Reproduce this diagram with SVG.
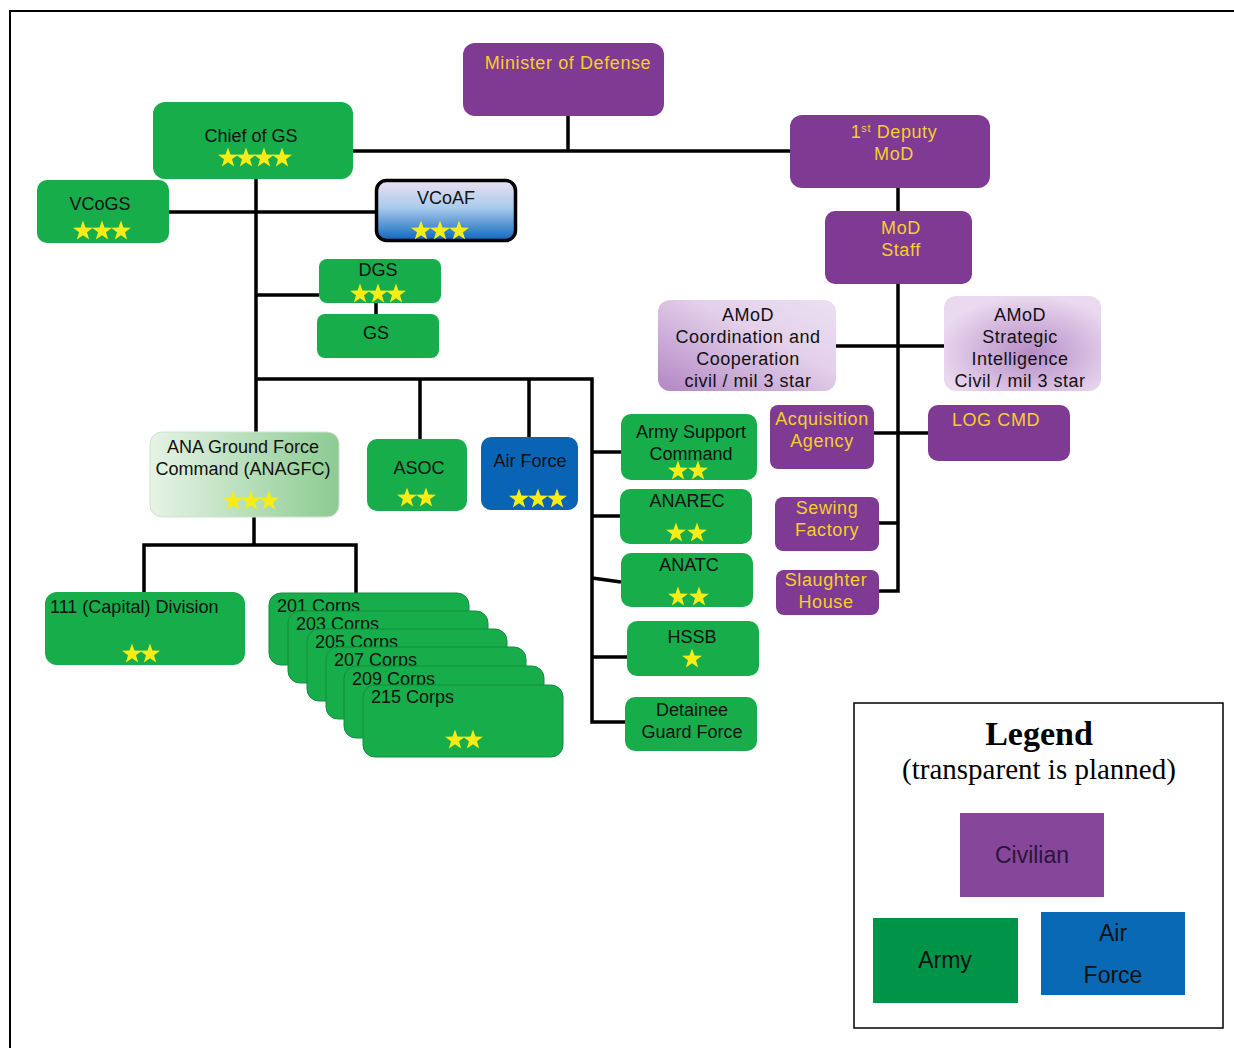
<svg xmlns="http://www.w3.org/2000/svg" width="1234" height="1048" viewBox="0 0 1234 1048">
<style>
.g{fill:#17ad4b}
.gs{fill:#17ad4b;stroke:#0f8f3c;stroke-width:1}
.p{fill:#7f3a94}
.t{font-family:"Liberation Sans",Arial,sans-serif;font-size:18px;fill:#111;text-anchor:middle}
.y{fill:#f5cf2a;letter-spacing:0.6px}
.a{letter-spacing:0.5px}
.l{text-anchor:start}
.c{fill:none;stroke:#000;stroke-width:3.5}
.lg{font-size:23px}
</style>
<defs>
<path id="star" d="M0,-10.5 L2.47,-3.4 L9.99,-3.24 L3.99,1.3 L6.17,8.49 L0,4.2 L-6.17,8.49 L-3.99,1.3 L-9.99,-3.24 L-2.47,-3.4Z" fill="#f8ec16"/>
<linearGradient id="vcoaf" x1="0" y1="0" x2="0" y2="1">
<stop offset="0" stop-color="#ece0f0"/>
<stop offset="0.45" stop-color="#a9cbec"/>
<stop offset="1" stop-color="#0d66bd"/>
</linearGradient>
<linearGradient id="gfc" x1="0" y1="0" x2="1" y2="0">
<stop offset="0" stop-color="#e6f3e6"/>
<stop offset="1" stop-color="#8ccb91"/>
</linearGradient>
<linearGradient id="amod1" x1="0" y1="1" x2="1" y2="0">
<stop offset="0" stop-color="#b286c4"/>
<stop offset="0.6" stop-color="#e3d0ea"/>
<stop offset="1" stop-color="#ece0f1"/>
</linearGradient>
<radialGradient id="amod2" cx="0.55" cy="0.6" r="0.6">
<stop offset="0" stop-color="#b68cc7"/>
<stop offset="1" stop-color="#ead9ef"/>
</radialGradient>
</defs>
<rect width="1234" height="1048" fill="#fff"/>
<path d="M10,1048 V11 H1234" fill="none" stroke="#000" stroke-width="2"/>

<g id="connectors" class="c">
<path d="M568,116 V151"/>
<path d="M353,151 H790"/>
<path d="M256,179 V432"/>
<path d="M169,212 H375"/>
<path d="M256,295 H319"/>
<path d="M376,303 V314"/>
<path d="M256,379 H592 V722 H625"/>
<path d="M420,379 V439"/>
<path d="M529,379 V437"/>
<path d="M592,452 H621"/>
<path d="M592,516 H620"/>
<path d="M592,578 L621,582"/>
<path d="M592,657 H627"/>
<path d="M254,517 V545"/>
<path d="M144,593 V545 H356 V594"/>
<path d="M898,188 V211"/>
<path d="M898,284 V591 H879"/>
<path d="M836,346 H944"/>
<path d="M874,433 H928"/>
<path d="M879,523 H898"/>
</g>

<g id="minister"><rect class="p" x="463" y="43" width="201" height="73" rx="12"/><text class="t y" x="568" y="69">Minister of Defense</text></g>
<g id="chief"><rect class="g" x="153" y="102" width="200" height="77" rx="12"/><text class="t" x="251" y="142">Chief of GS</text>
<use href="#star" x="228" y="158"/><use href="#star" x="246" y="158"/><use href="#star" x="264" y="158"/><use href="#star" x="282" y="158"/></g>
<g id="deputy"><rect class="p" x="790" y="115" width="200" height="73" rx="12"/><text class="t y" x="894" y="138">1<tspan style="font-size:11px" dy="-6">st</tspan><tspan dy="6"> Deputy</tspan></text><text class="t y" x="894" y="160">MoD</text></g>
<g id="vcogs"><rect class="g" x="37" y="180" width="132" height="63" rx="10"/><text class="t" x="100" y="210">VCoGS</text>
<use href="#star" x="83" y="231"/><use href="#star" x="102" y="231"/><use href="#star" x="121" y="231"/></g>
<g id="vcoaf"><rect x="376.5" y="180.5" width="139" height="60" rx="10" fill="url(#vcoaf)" stroke="#000" stroke-width="3.5"/><text class="t" x="446" y="204">VCoAF</text>
<use href="#star" x="421" y="231"/><use href="#star" x="440" y="231"/><use href="#star" x="459" y="231"/></g>
<g id="dgs"><rect class="g" x="319" y="259" width="122" height="44" rx="8"/><text class="t" x="378" y="276">DGS</text>
<use href="#star" x="360" y="294"/><use href="#star" x="378" y="294"/><use href="#star" x="396" y="294"/></g>
<g id="gs"><rect class="g" x="317" y="314" width="122" height="44" rx="8"/><text class="t" x="376" y="339">GS</text></g>
<g id="modstaff"><rect class="p" x="825" y="211" width="147" height="73" rx="10"/><text class="t y" x="901" y="234">MoD</text><text class="t y" x="901" y="256">Staff</text></g>
<g id="amod-coord"><rect x="658" y="300" width="178" height="91" rx="12" fill="url(#amod1)"/>
<text class="t a" x="748" y="321">AMoD</text><text class="t a" x="748" y="343">Coordination and</text><text class="t a" x="748" y="365">Cooperation</text><text class="t a" x="748" y="387">civil / mil 3 star</text></g>
<g id="amod-intel"><rect x="944" y="296" width="157" height="95" rx="12" fill="url(#amod2)"/>
<text class="t a" x="1020" y="321">AMoD</text><text class="t a" x="1020" y="343">Strategic</text><text class="t a" x="1020" y="365">Intelligence</text><text class="t a" x="1020" y="387">Civil / mil 3 star</text></g>
<g id="acquisition"><rect class="p" x="770" y="405" width="104" height="64" rx="8"/><text class="t y" x="822" y="425">Acquisition</text><text class="t y" x="822" y="447">Agency</text></g>
<g id="logcmd"><rect class="p" x="928" y="405" width="142" height="56" rx="10"/><text class="t y" x="996" y="426">LOG CMD</text></g>
<g id="sewing"><rect class="p" x="775" y="497" width="104" height="54" rx="8"/><text class="t y" x="827" y="514">Sewing</text><text class="t y" x="827" y="536">Factory</text></g>
<g id="slaughter"><rect class="p" x="776" y="570" width="103" height="45" rx="8"/><text class="t y" x="826" y="586">Slaughter</text><text class="t y" x="826" y="608">House</text></g>

<g id="anagfc"><rect x="150" y="432" width="189" height="85" rx="12" fill="url(#gfc)" stroke="#cfe2cf"/><text class="t" x="243" y="453">ANA Ground Force</text><text class="t" x="243" y="475">Command (ANAGFC)</text>
<use href="#star" x="233" y="501"/><use href="#star" x="251" y="501"/><use href="#star" x="269" y="501"/></g>
<g id="asoc"><rect class="g" x="367" y="439" width="100" height="72" rx="10"/><text class="t" x="419" y="474">ASOC</text>
<use href="#star" x="407" y="498"/><use href="#star" x="426" y="498"/></g>
<g id="airforce"><rect x="481" y="437" width="97" height="73" rx="10" fill="#0a64b5"/><text class="t" x="530" y="467">Air Force</text>
<use href="#star" x="519" y="499"/><use href="#star" x="538" y="499"/><use href="#star" x="557" y="499"/></g>
<g id="asc"><rect class="g" x="621" y="414" width="136" height="66" rx="10"/><text class="t" x="691" y="438">Army Support</text><text class="t" x="691" y="460">Command</text>
<use href="#star" x="678" y="471"/><use href="#star" x="698" y="471"/></g>
<g id="anarec"><rect class="g" x="620" y="489" width="132" height="55" rx="10"/><text class="t" x="687" y="507">ANAREC</text>
<use href="#star" x="676" y="533"/><use href="#star" x="697" y="533"/></g>
<g id="anatc"><rect class="g" x="621" y="553" width="132" height="54" rx="10"/><text class="t" x="689" y="571">ANATC</text>
<use href="#star" x="678" y="597"/><use href="#star" x="699" y="597"/></g>
<g id="hssb"><rect class="g" x="627" y="621" width="132" height="55" rx="10"/><text class="t" x="692" y="643">HSSB</text>
<use href="#star" x="692" y="659"/></g>
<g id="detainee"><rect class="g" x="625" y="697" width="132" height="54" rx="10"/><text class="t" x="692" y="716">Detainee</text><text class="t" x="692" y="738">Guard Force</text></g>

<g id="div111"><rect class="g" x="45" y="592" width="200" height="73" rx="12"/><text class="t l" x="50" y="613">111 (Capital) Division</text>
<use href="#star" x="132" y="654"/><use href="#star" x="150" y="654"/></g>
<g id="corps201"><rect class="gs" x="269" y="593" width="200" height="72" rx="12"/><text class="t l" x="277" y="612">201 Corps</text></g>
<g id="corps203"><rect class="gs" x="288" y="611" width="200" height="72" rx="12"/><text class="t l" x="296" y="630">203 Corps</text></g>
<g id="corps205"><rect class="gs" x="307" y="629" width="200" height="72" rx="12"/><text class="t l" x="315" y="648">205 Corps</text></g>
<g id="corps207"><rect class="gs" x="326" y="647" width="200" height="72" rx="12"/><text class="t l" x="334" y="666">207 Corps</text></g>
<g id="corps209"><rect class="gs" x="344" y="666" width="200" height="72" rx="12"/><text class="t l" x="352" y="685">209 Corps</text></g>
<g id="corps215"><rect class="gs" x="363" y="685" width="200" height="72" rx="12"/><text class="t l" x="371" y="703">215 Corps</text>
<use href="#star" x="455" y="740"/><use href="#star" x="473" y="740"/></g>

<g id="legend">
<rect x="854" y="703" width="369" height="325" fill="#fff" stroke="#000" stroke-width="1.5"/>
<text x="1039" y="745" font-family="'Liberation Serif','Times New Roman',serif" font-size="34" font-weight="bold" text-anchor="middle" fill="#000">Legend</text>
<text x="1039" y="779" font-family="'Liberation Serif','Times New Roman',serif" font-size="29" text-anchor="middle" fill="#000">(transparent is planned)</text>
<rect x="960" y="813" width="144" height="84" fill="#86479a"/>
<text class="t lg" x="1032" y="863" style="fill:#2a1538">Civilian</text>
<rect x="873" y="918" width="145" height="85" fill="#009448"/>
<text class="t lg" x="945" y="968">Army</text>
<rect x="1041" y="912" width="144" height="83" fill="#0a69b5"/>
<text class="t lg" x="1113" y="941">Air</text>
<text class="t lg" x="1113" y="983">Force</text>
</g>
</svg>
